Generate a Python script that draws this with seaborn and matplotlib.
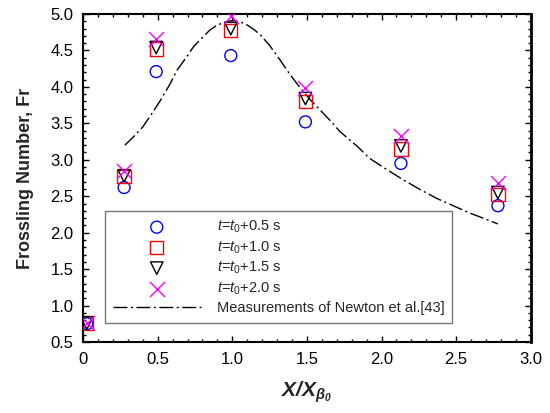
import numpy as np
import pandas as pd
import matplotlib
matplotlib.use("Agg")
import matplotlib.pyplot as plt
from matplotlib.ticker import MultipleLocator, FuncFormatter
import seaborn as sns

# Dimensionless position and Frossling number at four times
x_pos = [0.025, 0.275, 0.49, 0.99, 1.49, 2.13, 2.78]
fr_05 = [0.75, 2.62, 4.21, 4.43, 3.52, 2.95, 2.37]
fr_10 = [0.76, 2.77, 4.52, 4.77, 3.80, 3.15, 2.52]
fr_15 = [0.76, 2.78, 4.54, 4.80, 3.84, 3.19, 2.55]
fr_20 = [0.76, 2.84, 4.66, 4.97, 3.98, 3.32, 2.68]

# Newton et al. measurements
newton_x = [0.28, 0.34, 0.40, 0.46, 0.52, 0.58, 0.63, 0.69, 0.74, 0.80, 0.85,
            0.90, 0.96, 1.00, 1.05, 1.10, 1.15, 1.19, 1.25, 1.32, 1.38, 1.45,
            1.52, 1.59, 1.66, 1.72, 1.84, 1.92, 2.04, 2.15, 2.26, 2.37, 2.48,
            2.59, 2.68, 2.78]
newton_y = [3.20, 3.32, 3.45, 3.63, 3.82, 4.03, 4.23, 4.40, 4.55, 4.68, 4.78,
            4.85, 4.895, 4.91, 4.895, 4.85, 4.78, 4.71, 4.57, 4.37, 4.19, 4.00,
            3.83, 3.68, 3.53, 3.39, 3.18, 3.02, 2.86, 2.72, 2.59, 2.47, 2.37,
            2.27, 2.20, 2.12]

labels = [r"$\mathit{t}$=$\mathit{t}_{\mathit{0}}$+0.5 s",
          r"$\mathit{t}$=$\mathit{t}_{\mathit{0}}$+1.0 s",
          r"$\mathit{t}$=$\mathit{t}_{\mathit{0}}$+1.5 s",
          r"$\mathit{t}$=$\mathit{t}_{\mathit{0}}$+2.0 s"]
newton_label = "Measurements of Newton et al.[43]"

sns.set_theme(style="ticks")
plt.rcParams["font.family"] = ["Liberation Sans", "DejaVu Sans"]
plt.rcParams["mathtext.fontset"] = "custom"
plt.rcParams["mathtext.rm"] = "Liberation Sans"
plt.rcParams["mathtext.it"] = "Liberation Sans:italic"
plt.rcParams["mathtext.bf"] = "Liberation Sans:bold"
plt.rcParams["mathtext.bfit"] = "Liberation Sans:bold:italic"

fig = plt.figure(figsize=(5.5, 4.13), dpi=100)
ax = fig.add_axes([0.151, 0.172, 0.814, 0.794])

df = pd.DataFrame({"x": x_pos, "a": fr_05, "b": fr_10, "c": fr_15, "d": fr_20})
series = [("a", "o", "#0000FF", 74), ("b", "s", "#FF0000", 92),
          ("c", "v", "#000000", 81)]
for (col, mk, colr, size), lab in zip(series, labels[:3]):
    sns.scatterplot(data=df, x="x", y=col, marker=mk, s=size,
                    facecolors="none", edgecolor=colr, linewidth=1.0,
                    ax=ax, label=lab, zorder=3)
sns.scatterplot(data=df, x="x", y="d", marker="x", s=117, color="#FF00FF",
                linewidth=1.0, ax=ax, label=labels[3], zorder=4)

ndf = pd.DataFrame({"x": newton_x, "y": newton_y})
sns.lineplot(data=ndf, x="x", y="y", color="black", linewidth=1.0,
             dashes=False, ax=ax, label=newton_label, sort=False)
ax.lines[-1].set_dashes((10, 2.5, 1.5, 2.5))

ax.set_xlim(0, 3.0)
ax.set_ylim(0.5, 5.0)
ax.xaxis.set_major_locator(MultipleLocator(0.5))
ax.xaxis.set_minor_locator(MultipleLocator(0.1))
ax.yaxis.set_major_locator(MultipleLocator(0.5))
ax.yaxis.set_minor_locator(MultipleLocator(0.1))
ax.xaxis.set_major_formatter(FuncFormatter(lambda v, p: "0" if abs(v) < 1e-9 else f"{v:.1f}"))
ax.yaxis.set_major_formatter(FuncFormatter(lambda v, p: f"{v:.1f}"))
ax.tick_params(which="both", direction="in", top=True, right=True,
               labelsize=12, colors="black", width=1.0)
ax.tick_params(which="major", length=4, pad=7)
ax.tick_params(which="minor", length=2.2)
for side in ["left", "bottom", "top"]:
    ax.spines[side].set_linewidth(1.5)
    ax.spines[side].set_color("black")
ax.spines["right"].set_linewidth(2.0)
ax.spines["right"].set_color("black")

ax.set_ylabel("Frossling Number, Fr", fontsize=13, fontweight="bold", labelpad=12)
ax.set_xlabel(r"$\mathbfit{X/X}_{\mathbfit{\beta}_{\mathbfit{0}}}$", fontsize=15, labelpad=9)

leg = ax.legend(loc="lower left", bbox_to_anchor=(0.049, 0.058), fontsize=10.5,
                frameon=True, fancybox=False, edgecolor="#555555",
                handlelength=6.0, handletextpad=1.1, borderpad=0.55,
                labelspacing=0.28, borderaxespad=0)
leg.get_frame().set_linewidth(1.0)

fig.savefig("out.png", dpi=100)
